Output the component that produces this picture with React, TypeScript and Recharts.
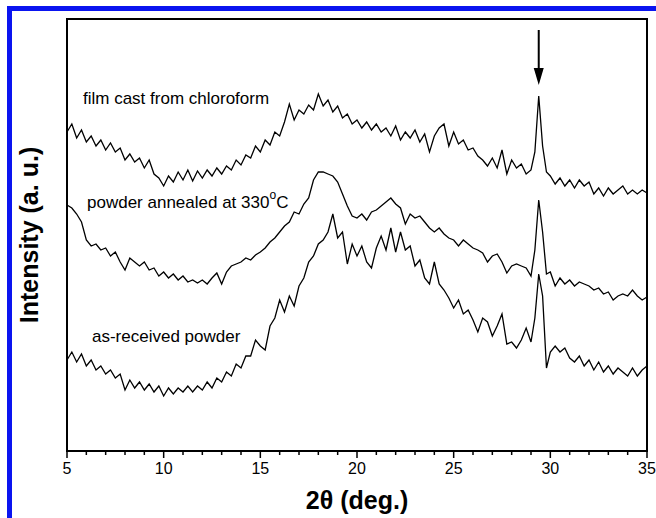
import { LineChart, Line, XAxis, YAxis, ReferenceArea, ReferenceLine, ReferenceDot } from 'recharts';

// 2θ positions (deg.), denser around the 29.4° reflection
const twoTheta = [
  5, 5.25, 5.5, 5.75, 6, 6.25, 6.5, 6.75, 7, 7.25, 7.5, 7.75, 8, 8.25, 8.5, 8.75,
  9, 9.25, 9.5, 9.75, 10, 10.25, 10.5, 10.75, 11, 11.25, 11.5, 11.75, 12, 12.25, 12.5, 12.75,
  13, 13.25, 13.5, 13.75, 14, 14.25, 14.5, 14.75, 15, 15.25, 15.5, 15.75, 16, 16.25, 16.5, 16.75,
  17, 17.25, 17.5, 17.75, 18, 18.25, 18.5, 18.75, 19, 19.25, 19.5, 19.75, 20, 20.25, 20.5, 20.75,
  21, 21.25, 21.5, 21.75, 22, 22.25, 22.5, 22.75, 23, 23.25, 23.5, 23.75, 24, 24.25, 24.5, 24.75,
  25, 25.25, 25.5, 25.75, 26, 26.25, 26.5, 26.75, 27, 27.25, 27.5, 27.75, 28, 28.25, 28.5, 28.75,
  29, 29.2, 29.4, 29.6, 29.8,
  30, 30.25, 30.5, 30.75, 31, 31.25, 31.5, 31.75, 32, 32.25, 32.5, 32.75, 33, 33.25, 33.5, 33.75,
  34, 34.25, 34.5, 34.75, 35,
];

// intensity (a.u., curves offset vertically)
const filmChloroform = [
  319, 327, 313, 321, 309, 315, 305, 311, 301, 308, 299, 303, 291, 297, 289, 293,
  283, 291, 277, 273, 265, 275, 269, 279, 271, 281, 270, 280, 273, 281, 275, 283,
  277, 285, 281, 291, 286, 296, 293, 305, 299, 311, 306, 319, 315, 329, 347, 331,
  341, 337, 346, 341, 357, 345, 351, 339, 345, 333, 337, 327, 331, 323, 329, 321,
  327, 319, 323, 315, 325, 311, 319, 313, 321, 309, 317, 299, 315, 323, 327, 305,
  319, 307, 311, 301, 303, 295, 291, 285, 293, 283, 301, 277, 291, 283, 287, 277,
  281, 299, 355, 305, 279,
  275, 267, 273, 265, 271, 263, 271, 265, 269, 257, 263, 255, 263, 257, 261, 265,
  257, 261, 257, 261, 258,
];

const annealed330 = [
  246, 243, 237, 229, 211, 205, 207, 201, 203, 195, 199, 189, 181, 193, 189, 185,
  189, 181, 183, 175, 179, 173, 177, 171, 175, 169, 171, 168, 171, 167, 173, 178,
  167, 179, 185, 187, 189, 193, 191, 196, 199, 203, 209, 213, 219, 225, 229, 239,
  237, 247, 253, 271, 279, 279, 277, 275, 269, 257, 245, 235, 233, 237, 231, 239,
  241, 245, 249, 253, 247, 243, 227, 237, 233, 235, 229, 223, 219, 223, 217, 213,
  211, 205, 211, 207, 203, 201, 198, 189, 195, 197, 189, 178, 185, 187, 185, 183,
  175, 201, 251, 219, 177,
  179, 165, 173, 167, 171, 165, 169, 167, 165, 161, 163, 157, 159, 151, 155, 157,
  155, 161, 155, 151, 154,
];

const asReceived = [
  91, 99, 89, 97, 85, 91, 81, 85, 77, 81, 73, 77, 61, 71, 63, 69,
  61, 67, 59, 65, 55, 63, 57, 63, 59, 65, 59, 65, 61, 69, 63, 73,
  69, 79, 75, 87, 83, 95, 95, 111, 105, 101, 125, 133, 151, 139, 155, 145,
  165, 173, 189, 195, 207, 211, 219, 237, 213, 219, 187, 207, 195, 205, 189, 183,
  203, 215, 201, 223, 199, 219, 201, 205, 185, 191, 173, 167, 189, 167, 161, 153,
  143, 151, 137, 141, 131, 119, 133, 129, 115, 125, 137, 107, 109, 103, 111, 123,
  109, 133, 177, 155, 83,
  99, 105, 99, 103, 93, 89, 95, 85, 91, 81, 89, 79, 85, 77, 83, 79,
  75, 83, 75, 81, 85,
];

const xTicks = [
  5, 6, 7, 8, 9, 10, 11, 12, 13, 14, 15, 16, 17, 18, 19, 20,
  21, 22, 23, 24, 25, 26, 27, 28, 29, 30, 31, 32, 33, 34, 35,
];

const FONT = '"Liberation Sans", Arial, Helvetica, sans-serif';

const data = twoTheta.map((x, i) => ({
  x,
  film: filmChloroform[i],
  annealed: annealed330[i],
  received: asReceived[i],
}));

function XTick(props: any) {
  const { x, y, payload } = props;
  const v = payload.value as number;
  const major = v % 5 === 0;
  return (
    <g>
      <line x1={x} x2={x} y1={y} y2={y + (major ? 7 : 4)} stroke="#000" strokeWidth={1.5} />
      {major && (
        <text x={x} y={y + 23} textAnchor="middle" fontSize={16} fontFamily={FONT} fill="#000">
          {v}
        </text>
      )}
    </g>
  );
}

function ArrowHead(props: any) {
  const { cx, cy } = props;
  return <polygon points={`${cx},${cy} ${cx - 5},${cy - 17} ${cx + 5},${cy - 17}`} fill="#000" />;
}

export default function App() {
  return (
    <div style={{ position: 'absolute', left: 0, top: 0, width: 656, height: 518, background: '#fff' }}>
      <LineChart width={656} height={518} data={data} margin={{ top: 19, right: 9, left: 67, bottom: 27 }}>
        <XAxis
          dataKey="x"
          type="number"
          domain={[5, 35]}
          ticks={xTicks}
          interval={0}
          height={40}
          axisLine={false}
          tickLine={false}
          tickSize={0}
          tickMargin={0}
          tick={<XTick />}
        />
        <YAxis hide type="number" domain={[0, 432]} />
        <ReferenceArea x1={5} x2={35} y1={0} y2={432} fill="none" stroke="#000" strokeWidth={2} />
        <Line type="linear" dataKey="film" stroke="#000" strokeWidth={1.3} dot={false} isAnimationActive={false} />
        <Line type="linear" dataKey="annealed" stroke="#000" strokeWidth={1.3} dot={false} isAnimationActive={false} />
        <Line type="linear" dataKey="received" stroke="#000" strokeWidth={1.3} dot={false} isAnimationActive={false} />
        <ReferenceLine segment={[{ x: 29.4, y: 421 }, { x: 29.4, y: 380 }]} stroke="#000" strokeWidth={2} />
        <ReferenceDot x={29.4} y={366} r={0} shape={<ArrowHead />} />
      </LineChart>
      <svg
        width={656}
        height={518}
        style={{ position: 'absolute', left: 0, top: 0, pointerEvents: 'none' }}
        fontFamily={FONT}
      >
        <rect x={7} y={6} width={649} height={5} fill="#0a14f0" />
        <rect x={7} y={6} width={5} height={512} fill="#0a14f0" />
        <text x={83} y={104} fontSize={17} fill="#000">film cast from chloroform</text>
        <text x={87} y={208} fontSize={17} fill="#000">
          powder annealed at 330
          <tspan dy={-9} fontSize={12}>o</tspan>
          <tspan dy={9}>C</tspan>
        </text>
        <text x={92} y={342} fontSize={17} fill="#000">as-received powder</text>
        <text x={357} y={509} textAnchor="middle" fontSize={25} fontWeight="bold" fill="#000">
          2θ (deg.)
        </text>
        <text
          transform="translate(38, 235) rotate(-90)"
          textAnchor="middle"
          fontSize={25}
          fontWeight="bold"
          fill="#000"
        >
          Intensity (a. u.)
        </text>
      </svg>
    </div>
  );
}
